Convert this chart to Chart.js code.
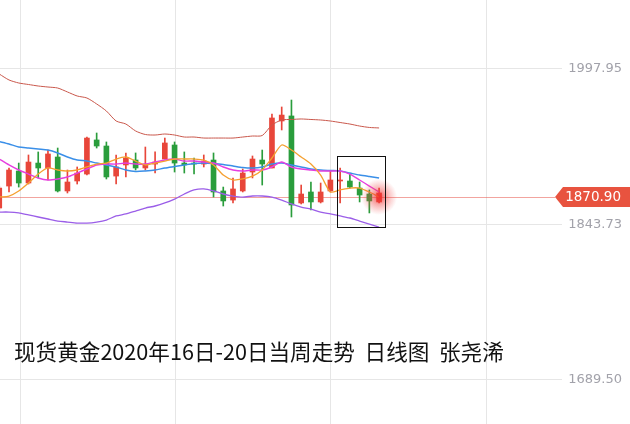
<!DOCTYPE html>
<html>
<head>
<meta charset="utf-8">
<script src="https://cdn.jsdelivr.net/npm/chart.js@4.4.1/dist/chart.umd.min.js"></script>
<style>
  html, body { margin: 0; padding: 0; background: #fff; }
  #wrap { position: relative; width: 630px; height: 424px; overflow: hidden; }
  #chart { position: absolute; left: 0; top: 0; }
  .title {
    position: absolute; left: 14px; top: 338px;
    font-family: "Noto Sans CJK SC", "Noto Sans", sans-serif;
    font-size: 21.6px; line-height: 26px; color: #111; white-space: pre;
  }
</style>
</head>
<body>
<div id="wrap">
  <canvas id="chart" width="630" height="424"></canvas>
  <div class="title">现货黄金2020年16日-20日当周走势  日线图  张尧浠</div>
</div>
<script>
// daily candles
let openPrices  = [1859.9, 1881.7, 1896.6, 1884.7, 1904.5, 1899.6, 1910.5, 1876.8, 1886.7, 1893.6,
                   1927.4, 1921.4, 1891.6, 1902.6, 1907.5, 1899.6, 1903.5, 1908.5, 1922.4, 1904.5,
                   1904.5, 1903.5, 1907.5, 1876.8, 1867.8, 1876.8, 1895.6, 1907.5, 1899.6, 1946.2,
                   1951.2, 1864.9, 1875.8, 1865.9, 1876.8, 1886.7, 1886.7, 1879.7, 1873.8, 1865.9];
let highPrices  = [1881.7, 1899.6, 1904.5, 1912.5, 1915.5, 1917.4, 1919.4, 1897.6, 1900.6, 1930.3,
                   1934.3, 1925.4, 1912.5, 1914.5, 1914.5, 1920.4, 1915.5, 1929.3, 1925.4, 1915.5,
                   1909.5, 1912.5, 1914.5, 1880.7, 1889.7, 1898.6, 1911.5, 1917.4, 1953.1, 1960.1,
                   1967.0, 1882.7, 1885.7, 1884.7, 1896.6, 1899.6, 1893.6, 1885.7, 1877.8, 1879.7];
let lowPrices   = [1857.9, 1875.8, 1880.7, 1883.7, 1889.7, 1887.7, 1875.8, 1874.8, 1883.7, 1892.6,
                   1919.4, 1888.7, 1883.7, 1890.7, 1897.6, 1897.6, 1894.6, 1908.5, 1895.6, 1894.6,
                   1893.6, 1900.6, 1870.8, 1861.9, 1864.9, 1875.8, 1889.7, 1882.7, 1899.6, 1937.3,
                   1851.0, 1863.9, 1857.9, 1864.9, 1875.8, 1864.9, 1879.7, 1865.9, 1855.0, 1864.9];
let closePrices = [1879.7, 1897.6, 1884.7, 1905.5, 1899.6, 1913.5, 1876.8, 1885.7, 1894.6, 1929.3,
                   1921.4, 1890.7, 1900.6, 1909.5, 1899.6, 1903.5, 1905.5, 1924.4, 1904.5, 1902.6,
                   1903.5, 1906.5, 1875.8, 1866.9, 1878.8, 1894.6, 1908.5, 1903.5, 1949.2, 1952.1,
                   1862.9, 1873.8, 1865.9, 1875.8, 1887.7, 1887.7, 1880.7, 1872.8, 1866.9, 1874.8];

let ma5  = [1870.8, 1871.8, 1876.8, 1884.7, 1893.6, 1899.6, 1897.6, 1896.6, 1897.6, 1900.6,
            1903.5, 1904.5, 1908.5, 1910.5, 1906.5, 1902.6, 1904.5, 1906.5, 1908.5, 1908.5,
            1908.5, 1907.5, 1902.6, 1892.6, 1887.7, 1888.7, 1891.6, 1897.6, 1909.5, 1922.4,
            1917.4, 1910.5, 1903.5, 1892.6, 1875.8, 1877.8, 1879.7, 1879.7, 1875.8, 1870.8];
let ma10 = [1908.5, 1902.6, 1897.6, 1893.6, 1889.7, 1887.7, 1888.7, 1890.7, 1894.6, 1898.6,
            1902.6, 1903.5, 1903.5, 1904.5, 1903.5, 1903.5, 1905.5, 1907.5, 1908.5, 1906.5,
            1906.5, 1905.5, 1904.5, 1900.6, 1897.6, 1896.6, 1897.6, 1897.6, 1900.6, 1905.5,
            1900.6, 1898.6, 1897.6, 1896.6, 1896.6, 1896.6, 1893.6, 1887.7, 1881.7, 1875.8];
let bollUpper = [1992.8, 1986.9, 1983.9, 1982.4, 1980.9, 1979.9, 1978.9, 1975.0, 1971.0, 1969.0,
                 1963.1, 1956.1, 1946.2, 1943.2, 1936.3, 1932.8, 1932.3, 1933.3, 1932.3, 1930.3,
                 1930.3, 1929.3, 1929.3, 1929.3, 1929.3, 1930.3, 1931.3, 1931.8, 1942.2, 1947.2,
                 1947.7, 1948.2, 1947.7, 1947.2, 1946.2, 1944.7, 1943.2, 1941.2, 1939.8, 1939.3];
let bollMid   = [1925.9, 1923.4, 1920.4, 1919.4, 1918.4, 1917.4, 1914.5, 1910.5, 1907.5, 1906.5,
                 1904.5, 1902.6, 1900.6, 1897.6, 1896.1, 1896.6, 1897.6, 1899.6, 1901.1, 1902.6,
                 1904.0, 1904.5, 1904.0, 1903.1, 1901.6, 1900.1, 1899.6, 1900.6, 1903.5, 1904.5,
                 1902.6, 1900.6, 1898.6, 1897.6, 1897.1, 1896.6, 1894.6, 1892.6, 1891.1, 1889.7];
let bollLower = [1855.9, 1855.9, 1855.0, 1853.0, 1851.0, 1849.0, 1847.0, 1846.0, 1845.0, 1845.0,
                 1846.0, 1848.0, 1852.0, 1854.0, 1856.9, 1859.9, 1861.9, 1864.9, 1868.8, 1873.8,
                 1877.8, 1878.8, 1876.8, 1873.8, 1871.8, 1870.8, 1871.8, 1871.8, 1870.8, 1867.8,
                 1863.9, 1860.9, 1858.9, 1855.9, 1854.0, 1852.0, 1850.0, 1847.0, 1844.0, 1841.0];

let priceTicks = [1997.95, 1843.73, 1689.50];
let lastPrice = 1870.90;
let gridAt = [2.13, 18.09, 34.06, 50.02];   // vertical grid, in candle slots
let weekBox = { from: 35, to: 39, high: 1911.5, low: 1841.0 };

const RED = '#e8463a';
const GREEN = '#2a9d3c';
const LABEL_FONT = '"DejaVu Sans", Verdana, sans-serif';

let candleColors = openPrices.map((o, i) => closePrices[i] >= o ? RED : GREEN);

function toPoints(arr) {
  return arr.map((v, i) => ({ x: i, y: v }));
}

function lineSet(label, arr, color, width) {
  return {
    type: 'line',
    label: label,
    data: toPoints(arr),
    borderColor: color,
    borderWidth: width,
    pointRadius: 0,
    tension: 0.25,
    fill: false
  };
}

function noPadding(s) {
  s.paddingTop = 0;
  s.paddingBottom = 0;
  s.paddingLeft = 0;
  s.paddingRight = 0;
}

const markPlugin = {
  id: 'marks',
  beforeDatasetsDraw(chart) {
    const { ctx, chartArea, scales: { y } } = chart;
    const py = Math.round(y.getPixelForValue(lastPrice)) + 0.5;
    ctx.save();
    ctx.strokeStyle = 'rgba(232, 90, 80, 0.55)';
    ctx.lineWidth = 1;
    ctx.beginPath();
    ctx.moveTo(chartArea.left, py);
    ctx.lineTo(555, py);
    ctx.stroke();
    ctx.restore();
  },
  afterDatasetsDraw(chart) {
    const { ctx, scales: { x, y } } = chart;
    // glow on the last candle
    const gx = x.getPixelForValue(openPrices.length - 1);
    const gy = y.getPixelForValue(lastPrice);
    const g = ctx.createRadialGradient(gx, gy, 0, gx, gy, 18);
    g.addColorStop(0, 'rgba(240, 40, 40, 0.8)');
    g.addColorStop(0.45, 'rgba(240, 60, 60, 0.4)');
    g.addColorStop(1, 'rgba(240, 80, 80, 0)');
    ctx.save();
    ctx.fillStyle = g;
    ctx.beginPath();
    ctx.arc(gx, gy, 18, 0, Math.PI * 2);
    ctx.fill();

    // box round the week
    const bx1 = Math.round(x.getPixelForValue(weekBox.from) - 3) + 0.5;
    const bx2 = Math.round(x.getPixelForValue(weekBox.to) + 6) + 0.5;
    const by1 = Math.round(y.getPixelForValue(weekBox.high)) + 0.5;
    const by2 = Math.round(y.getPixelForValue(weekBox.low)) + 0.5;
    ctx.strokeStyle = '#111';
    ctx.lineWidth = 1;
    ctx.strokeRect(bx1, by1, bx2 - bx1, by2 - by1);
    ctx.restore();
  },
  afterDraw(chart) {
    const { ctx, scales: { y } } = chart;
    const py = y.getPixelForValue(lastPrice);
    ctx.save();
    ctx.fillStyle = '#e8533f';
    ctx.beginPath();
    ctx.moveTo(555, py);
    ctx.lineTo(563, py - 10);
    ctx.lineTo(630, py - 10);
    ctx.lineTo(630, py + 10);
    ctx.lineTo(563, py + 10);
    ctx.closePath();
    ctx.fill();
    ctx.fillStyle = '#fff';
    ctx.font = '13.5px ' + LABEL_FONT;
    ctx.textAlign = 'right';
    ctx.textBaseline = 'middle';
    ctx.fillText(lastPrice.toFixed(2), 621, py + 1);
    ctx.restore();
  }
};

const ctx = document.getElementById('chart').getContext('2d');
new Chart(ctx, {
  type: 'bar',
  data: {
    datasets: [
      lineSet('MA5', ma5, '#f5a030', 1.3),
      lineSet('MA10', ma10, '#e63ee0', 1.4),
      lineSet('UP', bollUpper, '#c9574b', 1),
      lineSet('MID', bollMid, '#3a8fe8', 1.5),
      lineSet('DN', bollLower, '#9b5ee8', 1.3),
      {
        label: 'body',
        data: openPrices.map((o, i) => ({ x: i, y: [o, closePrices[i]] })),
        backgroundColor: candleColors,
        barThickness: 5,
        minBarLength: 1,
        grouped: false
      },
      {
        label: 'wick',
        data: lowPrices.map((l, i) => ({ x: i, y: [l, highPrices[i]] })),
        backgroundColor: candleColors,
        barThickness: 1,
        grouped: false
      }
    ]
  },
  options: {
    responsive: false,
    animation: false,
    devicePixelRatio: 1,
    layout: { padding: { left: 0, top: 0, bottom: 0, right: 8 } },
    plugins: { legend: { display: false }, tooltip: { enabled: false } },
    scales: {
      x: {
        type: 'linear',
        min: 0.076,
        max: 57.78,
        offset: false,
        grid: { color: '#e6e6e6', drawTicks: false, offset: false },
        border: { display: false },
        ticks: { display: false },
        afterBuildTicks: (s) => { s.ticks = gridAt.map(v => ({ value: v })); },
        afterFit: (s) => { s.height = 0; noPadding(s); }
      },
      y: {
        position: 'right',
        min: 1645.7,
        max: 2066.2,
        grid: { color: '#e6e6e6', drawTicks: false },
        border: { display: false },
        ticks: {
          color: '#a2a2aa',
          font: { family: LABEL_FONT, size: 13 },
          crossAlign: 'far',
          padding: 6,
          callback: (v) => v.toFixed(2)
        },
        afterBuildTicks: (s) => { s.ticks = priceTicks.map(v => ({ value: v })); },
        afterFit: (s) => { s.width = 60; noPadding(s); }
      }
    }
  },
  plugins: [markPlugin]
});
</script>
</body>
</html>
